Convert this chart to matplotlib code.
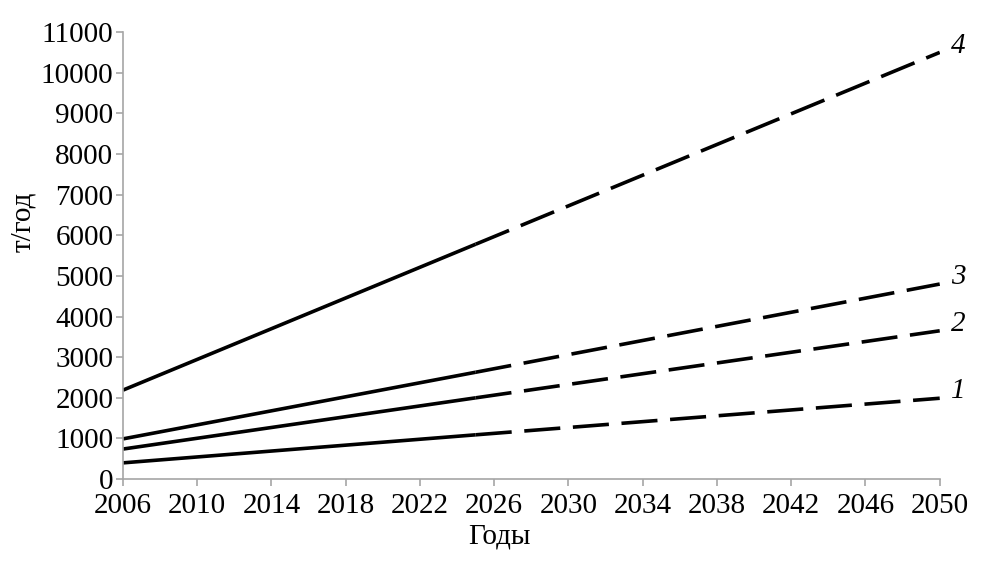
import matplotlib.pyplot as plt
import numpy as np

plt.rcParams['font.family'] = ['Liberation Serif', 'DejaVu Serif']

years_solid = [2006, 2025]
years_dash = [2025, 2050]
labels = ['1', '2', '3', '4']
start = [400, 740, 990, 2190]
mid = [1090, 2000, 2630, 5780]
end = [1990, 3650, 4800, 10500]

fig = plt.figure(figsize=(9.84, 5.63), dpi=100)
ax = fig.add_axes([0.125, 0.149, 0.83, 0.794])

for i in range(4):
    ax.plot(years_solid, [start[i], mid[i]], color='black', lw=2.6, solid_capstyle='butt')
    ax.plot(years_dash, [mid[i], end[i]], color='black', lw=2.6, dashes=(10, 3.5), dash_capstyle='butt')
    ax.text(2050.6, end[i] + 170, labels[i], fontsize=21, style='italic', va='center', ha='left')

ax.set_xlim(2006, 2050)
ax.set_ylim(0, 11000)
ax.set_xticks(np.arange(2006, 2051, 4))
ax.set_yticks(np.arange(0, 11001, 1000))

for s in ['top', 'right']:
    ax.spines[s].set_visible(False)
for s in ['left', 'bottom']:
    ax.spines[s].set_color('#a6a6a6')
    ax.spines[s].set_linewidth(1.2)
ax.tick_params(axis='both', colors='#a6a6a6', labelcolor='black', labelsize=21, length=5, width=1.2)
ax.tick_params(axis='x', pad=5)
ax.tick_params(axis='y', pad=2)

ax.set_xlabel('Годы', fontsize=21)
ax.xaxis.set_label_coords(0.461, -0.10)
ax.set_ylabel('т/год', fontsize=21)
ax.yaxis.set_label_coords(-0.106, 0.575)

plt.savefig('out.png', dpi=100)
